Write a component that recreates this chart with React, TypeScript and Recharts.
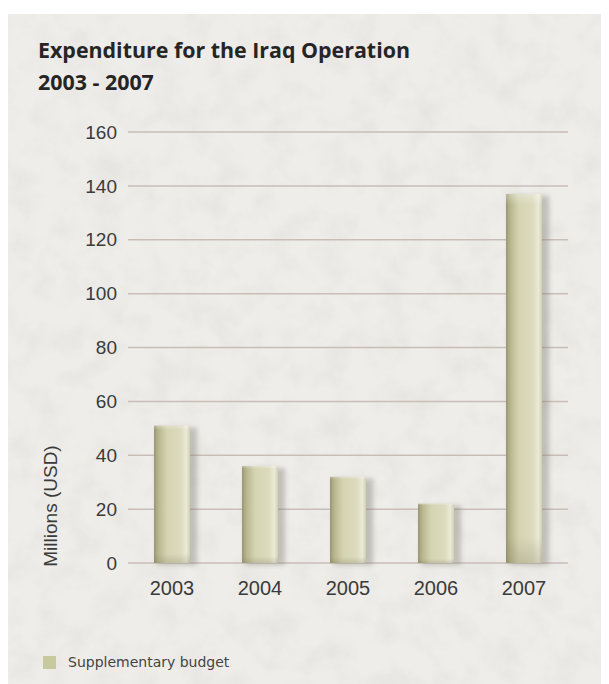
import React from "react";
import { BarChart, Bar, XAxis, YAxis, CartesianGrid, Legend } from "recharts";

const years = ["2003", "2004", "2005", "2006", "2007"];
const supplementary = [51, 36, 32, 22, 137];
const yTicks = [0, 20, 40, 60, 80, 100, 120, 140, 160];

const data = years.map((y, i) => ({ year: y, supplementary: supplementary[i] }));

const BarShape = (props: any) => {
  const { x, y, width, height } = props;
  if (!height || height <= 0) return null;
  return (
    <g>
      <rect x={x + 3} y={y + 2} width={width + 4} height={height} fill="#7c7c72" opacity={0.4} filter="url(#barShadow)" />
      <rect x={x} y={y} width={width} height={height} fill="url(#barH)" />
      <rect x={x} y={y} width={width} height={height} fill="url(#barV)" />
    </g>
  );
};

const LegendContent = () => (
  <div style={{ display: "flex", alignItems: "center", fontFamily: "'DejaVu Sans', sans-serif", fontSize: 14, color: "#444" }}>
    <div style={{ width: 13, height: 13, background: "#c7ca9c", marginRight: 12 }} />
    <span>Supplementary budget</span>
  </div>
);

const YLabel = () => (
  <text
    x={49}
    y={492}
    transform="rotate(-90 49 492)"
    textAnchor="middle"
    fontFamily="'Liberation Sans', Arial, sans-serif"
    fontSize={19}
    fill="#3a3a3a"
  >
    Millions (USD)
  </text>
);

export default function App() {
  return (
    <div style={{ marginTop: 6, width: 601, height: 670, background: "#efede9", position: "relative" }}>
      <svg width={601} height={670} style={{ position: "absolute", left: 0, top: 0 }}>
        <filter id="paper" x="0" y="0" width="100%" height="100%">
          <feTurbulence type="fractalNoise" baseFrequency="0.035" numOctaves={4} seed={3} />
          <feColorMatrix type="matrix" values="0 0 0 0 0.55  0 0 0 0 0.53  0 0 0 0 0.5  0 0 0 -1.6 0.95" />
        </filter>
        <rect x={0} y={0} width={601} height={670} filter="url(#paper)" opacity={0.22} />
        <text x={30} y={44} fontFamily="'Open Sans', sans-serif" fontWeight={700} fontSize={21.4} fill="#252525">
          Expenditure for the Iraq Operation
        </text>
        <text x={30} y={76} fontFamily="'Open Sans', sans-serif" fontWeight={700} fontSize={21.4} fill="#252525">
          2003 - 2007
        </text>
      </svg>
      <div style={{ position: "absolute", left: 0, top: 0 }}>
        <BarChart width={601} height={670} data={data} margin={{ top: 118, right: 41, bottom: 67, left: 0 }} barSize={36}>
          <defs>
            <linearGradient id="barH" x1="0" y1="0" x2="1" y2="0">
              <stop offset="0%" stopColor="#9a9670" />
              <stop offset="12%" stopColor="#b8b690" />
              <stop offset="35%" stopColor="#d4d3b1" />
              <stop offset="75%" stopColor="#dcdbbf" />
              <stop offset="90%" stopColor="#ebead8" />
              <stop offset="100%" stopColor="#d0ceb2" />
            </linearGradient>
            <linearGradient id="barV" x1="0" y1="0" x2="0" y2="1">
              <stop offset="0%" stopColor="#ffffff" stopOpacity={0.3} />
              <stop offset="3%" stopColor="#ffffff" stopOpacity={0} />
              <stop offset="93%" stopColor="#6e6a4c" stopOpacity={0} />
              <stop offset="100%" stopColor="#6e6a4c" stopOpacity={0.22} />
            </linearGradient>
            <filter id="barShadow" x="-50%" y="-10%" width="200%" height="120%">
              <feGaussianBlur stdDeviation="2.5" />
            </filter>
          </defs>
          <CartesianGrid vertical={false} stroke="#c9bdb8" strokeWidth={1.5} />
          <XAxis
            dataKey="year"
            axisLine={false}
            tickLine={false}
            tickSize={0}
            tickMargin={18}
            height={30}
            tick={{ fontFamily: "'Liberation Sans', Arial, sans-serif", fontSize: 20, fill: "#3a3a3a" }}
          />
          <YAxis
            domain={[0, 160]}
            ticks={yTicks}
            axisLine={false}
            tickLine={false}
            tickSize={0}
            tickMargin={11}
            width={120}
            interval={0}
            tick={{ fontFamily: "'Liberation Sans', Arial, sans-serif", fontSize: 19, fill: "#3a3a3a" }}
            label={<YLabel />}
          />
          <Legend
            verticalAlign="bottom"
            content={<LegendContent />}
            wrapperStyle={{ position: "absolute", left: 35, top: 640, width: 260, height: 24 }}
          />
          <Bar dataKey="supplementary" name="Supplementary budget" shape={<BarShape />} isAnimationActive={false} />
        </BarChart>
      </div>
    </div>
  );
}
